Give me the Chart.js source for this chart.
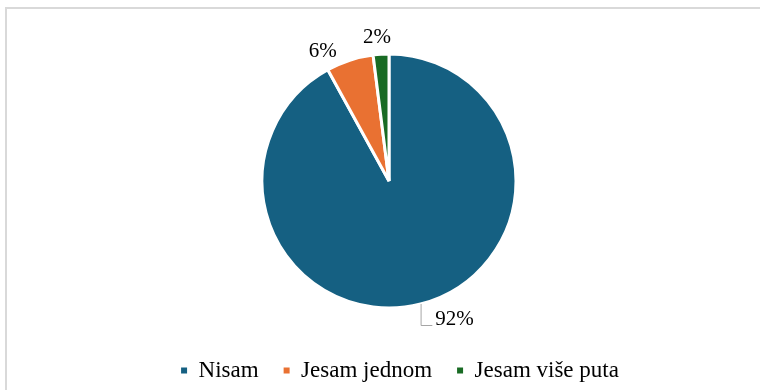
<!DOCTYPE html>
<html>
<head>
<meta charset="utf-8">
<script src="https://cdn.jsdelivr.net/npm/chart.js@4"></script>
<style>
  body { margin: 0; background: #fff; }
  #wrap { position: relative; width: 760px; height: 390px; overflow: hidden; }
  #frame { position: absolute; left: 5px; top: 7px; width: 800px; height: 420px;
           border-left: 2px solid #d9d9d9; border-top: 2px solid #d9d9d9; }
  canvas { position: absolute; left: 0; top: 0; }
</style>
</head>
<body>
<div id="wrap">
  <div id="frame"></div>
  <canvas id="pie" width="760" height="390"></canvas>
</div>
<script>
// answers and their shares (percent)
const answers = ["Nisam", "Jesam jednom", "Jesam više puta"];
const shares = [92, 6, 2];
const sliceColors = ["#156082", "#E97132", "#196B24"];

const serif = "'Liberation Serif', 'Times New Roman', serif";

// percent labels outside the pie, 92% gets a leader line like in excel
const outsideLabels = {
  id: "outsideLabels",
  afterDatasetsDraw(chart, args, opts) {
    const ctx = chart.ctx;
    const meta = chart.getDatasetMeta(0);
    ctx.save();
    ctx.font = "21px " + serif;
    ctx.fillStyle = "#000";
    ctx.textAlign = "center";
    ctx.textBaseline = "middle";
    meta.data.forEach((arc, i) => {
      const p = arc.getProps(["x", "y", "startAngle", "endAngle", "outerRadius"], true);
      const mid = (p.startAngle + p.endAngle) / 2;
      const ex = p.x + Math.cos(mid) * p.outerRadius;
      const ey = p.y + Math.sin(mid) * p.outerRadius;
      const off = opts.offsets[i];
      const tx = ex + off[0], ty = ey + off[1];
      const text = shares[i] + "%";
      if (opts.leader[i]) {
        const w = ctx.measureText(text).width;
        ctx.strokeStyle = "#a6a6a6";
        ctx.lineWidth = 1;
        ctx.beginPath();
        ctx.moveTo(ex + 0.5, ey);
        ctx.lineTo(ex + 0.5, ty + 6.5);
        ctx.lineTo(tx - w / 2 - 3, ty + 6.5);
        ctx.stroke();
      }
      ctx.fillText(text, tx, ty);
    });
    ctx.restore();
  }
};

// nudge the legend a bit right of the pie centre (and a touch lower)
const legendShift = {
  id: "legendShift",
  afterLayout(chart, args, opts) {
    const lg = chart.legend;
    if (!lg) return;
    lg.left += opts.dx;
    lg.right += opts.dx;
    lg.top += opts.dy;
    lg.bottom += opts.dy;
  }
};

new Chart(document.getElementById("pie"), {
  type: "pie",
  data: {
    labels: answers,
    datasets: [{
      data: shares,
      backgroundColor: sliceColors,
      borderColor: "#fff",
      borderWidth: 3,
      radius: 127
    }]
  },
  options: {
    responsive: false,
    animation: false,
    layout: { padding: { left: 18, right: 0, top: 30, bottom: 0 } },
    plugins: {
      legend: {
        position: "bottom",
        labels: {
          font: { family: serif, size: 23 },
          color: "#000",
          boxWidth: 6,
          boxHeight: 6,
          padding: 25,
          // no white outline round the little squares
          generateLabels: (chart) =>
            Chart.overrides.pie.plugins.legend.labels.generateLabels(chart)
              .map(l => ({ ...l, lineWidth: 0 }))
        }
      },
      tooltip: { enabled: false },
      outsideLabels: {
        offsets: [[34, 15], [-27, -9], [-4, -17]],
        leader: [true, false, false]
      },
      legendShift: { dx: 11, dy: 2 }
    }
  },
  plugins: [outsideLabels, legendShift]
});
</script>
</body>
</html>
